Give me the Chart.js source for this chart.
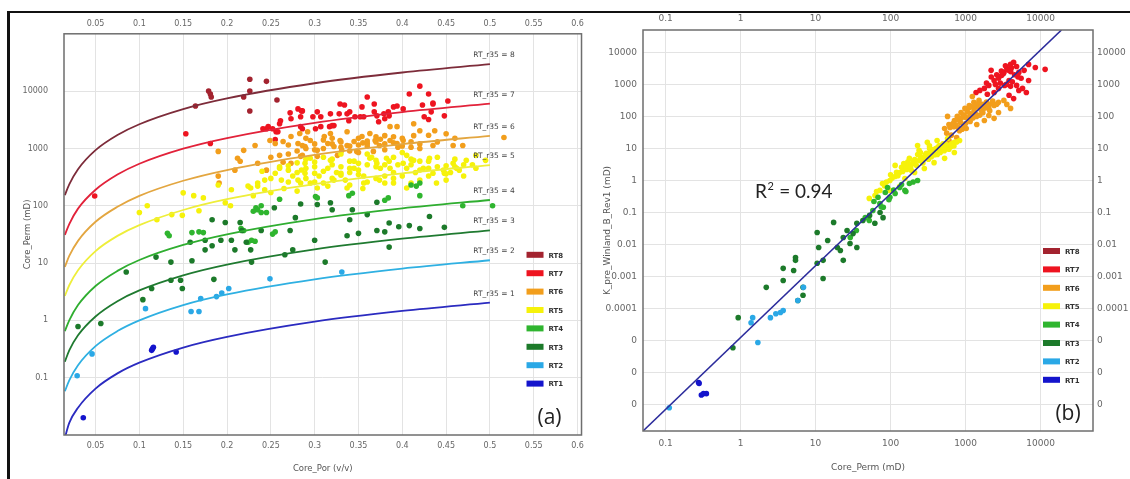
<!DOCTYPE html>
<html lang="en">
<head>
<meta charset="UTF-8">
<title>Rock types by Winland r35 - Core_Por vs Core_Perm</title>
<script src="https://cdn.jsdelivr.net/npm/chart.js@4.4.0/dist/chart.umd.min.js"></script>
<style>
    body {
        margin: 0;
        width: 1130px;
        height: 479px;
        overflow: hidden;
        position: relative;
        background: #fff;
        font-family: "DejaVu Sans", sans-serif;
    }
    .frame-top { position: absolute; left: 7px; top: 11px; width: 1123px; height: 2px; background: #111; }
    .frame-left { position: absolute; left: 7px; top: 11px; width: 3px; height: 468px; background: #111; }
    #leftBox { position: absolute; left: 10px; top: 13px; width: 580px; height: 466px; }
    #rightBox { position: absolute; left: 592px; top: 13px; width: 538px; height: 466px; }
</style>
</head>
<body>
<div class="frame-top"></div>
<div class="frame-left"></div>
<div id="leftBox"><canvas id="porChart" width="580" height="466"></canvas></div>
<div id="rightBox"><canvas id="permChart" width="538" height="466"></canvas></div>

<script>
// ---------- panel (a): Core_Por vs Core_Perm ----------
const porTicks = [0.05, 0.1, 0.15, 0.2, 0.25, 0.3, 0.35, 0.4, 0.45, 0.5, 0.55, 0.6];
const permTicks = [0.1, 1, 10, 100, 1000, 10000];

// RT_r35 boundary curves, read at these porosities
const curvePor = [0.015, 0.02, 0.03, 0.05, 0.075, 0.1, 0.15, 0.2, 0.3, 0.4, 0.5];
const curve8 = [153, 236, 434, 933, 1714, 2642, 4853, 7464, 13710, 21130, 29500];
const curve7 = [31, 48, 89, 190, 350, 540, 990, 1520, 2800, 4310, 6030];
const curve6 = [8.6, 13.3, 24.4, 52.5, 96, 149, 273, 420, 771, 1190, 1660];
const curve5 = [2.67, 4.1, 7.5, 16.2, 29.8, 45.9, 84.3, 130, 238, 367, 513];
const curve4 = [0.65, 1.0, 1.85, 3.98, 7.3, 11.3, 20.7, 31.8, 58.5, 90, 126];
const curve3 = [0.19, 0.3, 0.55, 1.17, 2.16, 3.33, 6.1, 9.4, 17.3, 26.6, 37.2];
const curve2 = [0.058, 0.09, 0.165, 0.355, 0.65, 1.0, 1.85, 2.84, 5.2, 8.0, 11.2];
const curve1 = [0.009, 0.0163, 0.03, 0.0646, 0.119, 0.183, 0.336, 0.516, 0.95, 1.46, 2.04];

// samples [Core_Por, Core_Perm]
const rt8Pts = [[0.226,16100],[0.245,14800],[0.179,10000],[0.181,8900],[0.182,7900],[0.164,5500],
    [0.219,7900],[0.226,10000],[0.226,4500],[0.257,7000]];
const rt7Pts = [[0.049,148],[0.153,1800],[0.181,1220],[0.245,2210],[0.247,2400],[0.256,1960],[0.26,2700],
    [0.261,3040],[0.272,4180],[0.273,3290],[0.281,4890],[0.285,4520],[0.284,2400],[0.241,2210],[0.252,2210],
    [0.258,1960],[0.255,1430],[0.36,7880],[0.42,12200],[0.408,8880],[0.452,6730],[0.423,5740],[0.435,5970],
    [0.433,4350],[0.448,3700],[0.425,3560],[0.394,5510],[0.401,4890],[0.39,5300],[0.384,4350],[0.38,3290],
    [0.373,2920],[0.368,5970],[0.368,4350],[0.354,5300],[0.352,3560],[0.356,3560],[0.34,4350],[0.337,4010],
    [0.339,3040],[0.329,5970],[0.334,5740],[0.328,4010],[0.318,4010],[0.322,2500],[0.317,2400],[0.307,3560],
    [0.303,4350],[0.298,3560],[0.286,4520],[0.284,3560],[0.286,2210],[0.301,2210],[0.307,2400],[0.371,3700],
    [0.379,4010],[0.385,3700],[0.346,3560],[0.32,2500],[0.43,8880],[0.435,6210],[0.43,3200]];
const rt6Pts = [[0.19,887],[0.219,925],[0.232,1127],[0.212,673],[0.215,597],[0.235,551],[0.209,418],[0.19,329],
    [0.191,249],[0.249,1374],[0.255,1220],[0.264,1320],[0.273,1610],[0.26,757],[0.264,574],[0.273,551],
    [0.286,757],[0.286,1127],[0.245,418],[0.281,1220],[0.289,1081],[0.295,1374],[0.303,925],[0.311,1610],
    [0.315,1220],[0.322,1081],[0.329,1374],[0.331,925],[0.337,1127],[0.345,1320],[0.348,887],[0.354,1610],
    [0.36,1220],[0.363,1820],[0.369,1374],[0.374,1127],[0.38,1670],[0.386,1374],[0.394,1220],[0.401,1374],
    [0.413,1670],[0.413,2700],[0.386,2400],[0.394,2400],[0.435,1127],[0.458,1127],[0.469,1127],[0.367,887],
    [0.326,757],[0.303,728],[0.284,728],[0.318,1820],[0.337,1960],[0.292,1960],[0.283,1820],[0.516,1550],
    [0.42,2040],[0.437,2040],[0.25,700],[0.27,800],[0.29,1000],[0.31,1400],[0.32,1200],[0.34,900],[0.35,1500],
    [0.36,1100],[0.37,1300],[0.38,950],[0.39,1600],[0.4,1100],[0.41,1300],[0.42,1200],[0.43,1700],[0.3,950],
    [0.33,1050],[0.355,1250],[0.375,1450],[0.395,1050],[0.28,900],[0.3,1200],[0.32,1500],[0.34,1100],
    [0.36,1350],[0.38,1200],[0.4,1500],[0.42,1000],[0.44,1300],[0.46,1500],[0.31,1000],[0.33,1300],[0.35,1150],
    [0.37,1600],[0.39,1250],[0.41,1050],[0.27,1150],[0.29,1500],[0.35,850],[0.45,1800]];
const rt5Pts = [[0.109,100],[0.1,76],[0.12,57],[0.15,168],[0.162,150],[0.173,137],[0.137,70],[0.149,68],
    [0.168,82],[0.19,230],[0.198,113],[0.204,100],[0.23,150],[0.227,204],[0.235,220],[0.243,280],[0.205,190],
    [0.224,220],[0.235,250],[0.243,190],[0.255,370],[0.262,280],[0.27,418],[0.281,280],[0.289,370],[0.289,551],
    [0.3,370],[0.315,450],[0.33,370],[0.345,450],[0.356,330],[0.371,551],[0.386,450],[0.401,551],[0.413,620],
    [0.424,450],[0.435,370],[0.447,418],[0.458,551],[0.465,418],[0.284,249],[0.303,204],[0.322,280],[0.337,204],
    [0.356,249],[0.374,280],[0.39,249],[0.405,204],[0.42,280],[0.439,249],[0.295,673],[0.318,620],[0.34,600],
    [0.363,673],[0.382,673],[0.405,757],[0.431,673],[0.484,757],[0.495,620],[0.473,620],[0.462,450],[0.448,370],
    [0.484,450],[0.25,300],[0.26,450],[0.265,200],[0.27,500],[0.275,330],[0.28,180],[0.285,420],[0.29,650],
    [0.295,250],[0.3,480],[0.305,330],[0.31,700],[0.315,220],[0.32,520],[0.325,380],[0.33,800],[0.335,280],
    [0.34,450],[0.345,600],[0.35,350],[0.355,200],[0.36,520],[0.365,700],[0.37,300],[0.375,450],[0.38,250],
    [0.385,600],[0.39,380],[0.395,520],[0.4,330],[0.405,450],[0.41,250],[0.415,380],[0.42,600],[0.43,330],
    [0.44,480],[0.45,280],[0.455,380],[0.46,650],[0.47,330],[0.48,520],[0.3,260],[0.32,300],[0.34,230],
    [0.36,260],[0.38,330],[0.26,480],[0.28,560],[0.24,400],[0.25,170],[0.29,300],[0.31,400],[0.33,480],
    [0.35,550],[0.37,620],[0.39,700],[0.41,520],[0.43,450],[0.45,500],[0.27,260],[0.29,450],[0.31,250],
    [0.33,340],[0.35,420],[0.37,480],[0.39,300],[0.41,650],[0.43,600],[0.45,360],[0.47,520],[0.32,650],
    [0.34,380],[0.36,800],[0.38,520],[0.4,850],[0.42,420],[0.44,700],[0.46,480],[0.28,380],[0.3,580]];
const rt4Pts = [[0.134,30],[0.132,33],[0.16,34],[0.168,35],[0.173,34],[0.219,37],[0.216,40],[0.233,92],
    [0.235,85],[0.239,76],[0.245,76],[0.23,80],[0.239,100],[0.252,32],[0.255,35],[0.228,25],[0.224,23],
    [0.232,24],[0.303,137],[0.301,145],[0.339,150],[0.343,165],[0.416,220],[0.41,230],[0.42,150],[0.384,137],
    [0.38,125],[0.42,250],[0.26,130],[0.469,100],[0.503,100]];
const rt3Pts = [[0.085,7],[0.119,12.7],[0.136,10.4],[0.16,11],[0.114,3.6],[0.104,2.3],[0.136,5],[0.147,5],
    [0.149,3.6],[0.185,5.2],[0.03,0.78],[0.056,0.88],[0.183,57],[0.198,51],[0.158,23],[0.175,25],[0.183,20],
    [0.193,25],[0.205,25],[0.175,17],[0.209,17],[0.222,23],[0.227,17],[0.228,10.4],[0.266,14],[0.275,17],
    [0.272,37],[0.3,25],[0.312,10.4],[0.337,30],[0.34,57],[0.278,62],[0.254,92],[0.215,51],[0.318,113],
    [0.284,107],[0.343,85],[0.217,37],[0.239,37],[0.303,105],[0.32,85],[0.371,115],[0.385,50],[0.396,43],
    [0.408,45],[0.42,40],[0.431,65],[0.448,42],[0.36,70],[0.371,37],[0.35,33],[0.38,35],[0.385,19]];
const rt2Pts = [[0.046,0.26],[0.029,0.108],[0.107,1.6],[0.159,1.43],[0.168,1.43],[0.17,2.4],[0.188,2.6],
    [0.194,3.0],[0.202,3.6],[0.249,5.3],[0.331,7.0]];
const rt1Pts = [[0.036,0.02],[0.115,0.32],[0.116,0.34],[0.114,0.3],[0.142,0.28]];

// ---------- panel (b): Core_Perm vs K_pre_Winland_B_Rev1 ----------
const coreTicks = [0.1, 1, 10, 100, 1000, 10000];
const predTicks = [1e-7, 1e-6, 1e-5, 1e-4, 0.001, 0.01, 0.1, 1, 10, 100, 1000, 10000];
const fitLine = [[0.05, 1.5e-8], [19000, 5e4]];

// samples [Core_Perm, K_pre]
const kRt7 = [[1380,560],[1780,750],[2040,930],[2400,1330],[2750,1550],[3240,2370],[3550,3160],[3980,4220],
    [4370,4900],[4790,3630],[5130,2370],[3800,1330],[2750,750],[3980,870],[5500,1550],[6030,2750],[6920,1330],
    [6460,560],[4370,360],[8510,3390],[11500,2950],[2400,560],[1950,490],[3020,1900],[4790,930],[2190,2750],
    [3310,930],[5750,750],[6920,4220],[1550,650],[3800,460],[5130,650],[2200,1700],[2600,2000],[3000,2600],
    [3400,3800],[3700,2800],[4100,3300],[4500,2000],[5000,1700],[2900,1100],[3500,1000],[4200,1200],
    [1900,1100],[2500,1000],[3200,2200],[4000,2500]];
const kRt6 = [[525,42],[600,56],[710,75],[775,100],[870,133],[980,178],[1120,219],[1290,275],[1510,316],
    [1780,237],[2040,178],[2400,219],[2750,275],[3240,316],[2040,107],[1780,75],[1410,56],[1120,87],[955,52],
    [830,36],[1290,133],[1620,155],[2400,87],[2750,133],[645,26],[760,22],[600,18],[1020,42],[3550,237],
    [3980,178],[575,100],[1230,420],[700,48],[850,65],[1000,95],[1150,120],[1300,160],[1450,200],[1650,240],
    [1900,280],[2200,250],[2600,240],[1400,100],[1700,130],[2100,150],[1000,60],[1250,90],[900,40],
    [560,30],[620,45],[680,60],[740,55],[800,80],[880,90],[950,110],[1050,140],[1100,180],[1200,200],
    [1350,220],[1500,260],[1600,200],[1800,180],[2000,220],[2300,300],[1150,70],[1350,120],[1550,110],[800,45]];
const kRt5 = [[72,0.49],[83,0.69],[98,1.0],[115,1.33],[132,1.78],[155,2.37],[178,2.95],[209,3.6],[240,4.2],
    [282,5.2],[331,6.0],[380,7.5],[447,8.7],[525,10.7],[603,12.3],[708,15.5],[832,17.8],[155,1.15],[209,1.78],
    [282,2.37],[380,3.6],[525,4.9],[708,7.5],[115,2.95],[178,4.9],[240,8.7],[331,10],[447,12.3],[62,0.34],
    [132,0.65],[98,0.49],[229,12.3],[309,15.5],[52,0.275],[575,20.4],[190,2.04],[417,17.8],[100,1.5],[120,1.8],
    [140,2.6],[165,2.2],[190,3.2],[210,4.5],[250,5.5],[270,3.5],[300,7],[350,5.5],[400,10],[420,6.5],[480,9],
    [550,11],[650,14],[170,3.8],[230,6.5],[360,9],[500,14],[600,9.5],[65,0.45],[78,0.8],[88,0.9],[105,1.2],
    [125,1.4],[145,1.9],[160,2.8],[185,2.6],[200,3.8],[220,3.0],[260,4.0],[290,6.3],[320,4.6],[340,8],
    [390,6.3],[430,11],[460,7.5],[520,8.5],[560,13],[640,11.5],[700,12],[760,16],[150,3.4],[250,7.5],[330,12]];
const kRt4 = [[72,0.19],[98,0.3],[132,0.6],[178,0.8],[229,1.0],[58,0.115],[80,0.145],[115,0.39],[155,0.49],
    [91,0.6],[68,0.3],[46,0.069],[52,0.056],[35,0.0275],[29,0.0166],[60,0.22],[85,0.42],[110,0.5],[140,0.75],
    [160,0.45],[200,0.9],[75,0.15],[95,0.25]];
const kRt3 = [[10.5,0.0237],[17.4,0.049],[14.5,0.0133],[11,0.0081],[10.5,0.0026],[12.6,0.00087],[5.4,0.0039],
    [3.7,0.0018],[3.7,0.00075],[5.1,0.00155],[5.4,0.0032],[2.2,0.00046],[6.8,0.00026],[6.8,0.00046],
    [5.8,0.000178],[0.93,5.2e-5],[0.79,6e-6],[23.4,0.0166],[28.8,0.0107],[35.5,0.0081],[21.4,0.0065],
    [23.4,0.0032],[19.5,0.0081],[31.6,0.0219],[42.7,0.056],[52.5,0.081],[61.7,0.046],[35.5,0.046],[72.4,0.1],
    [79.4,0.069],[12.6,0.0032],[26.3,0.0275]];
const kRt2 = [[1.45,5.2e-5],[1.38,3.6e-5],[2.5,5.2e-5],[2.95,6.9e-5],[3.4,7.5e-5],[3.7,8.7e-5],[5.8,0.000178],
    [6.9,0.00046],[1.7,8.7e-6],[0.112,8e-8]];
const kRt1 = [[0.275,4.9e-7],[0.28,4.6e-7],[0.3,2.0e-7],[0.32,2.2e-7],[0.35,2.2e-7]];

// rock type colours (legend order RT8..RT1)
const rtNames = ['RT8', 'RT7', 'RT6', 'RT5', 'RT4', 'RT3', 'RT2', 'RT1'];
const rtColors = ['#a3232f', '#ee1420', '#f29e1c', '#f6f20a', '#2fb52f', '#1c7a2a', '#2aa8e6', '#1414cc'];
const curveColors = ['#7d2c3a', '#e2223a', '#e3a640', '#eeee3a', '#2fae30', '#1f7a30', '#2fb0e2', '#2b2bc0'];

function toXY(pairs) {
    return pairs.map(p => ({ x: p[0], y: p[1] }));
}

function scatterSet(label, pairs, color) {
    return {
        label: label,
        data: toXY(pairs),
        backgroundColor: color,
        pointRadius: 2.8,
        pointBorderWidth: 0,
        showLine: false,
        order: 2
    };
}

function curveSet(label, values, color) {
    return {
        label: label,
        data: curvePor.map((p, i) => ({ x: p, y: values[i] })),
        borderColor: color,
        borderWidth: 1.8,
        pointRadius: 0,
        showLine: true,
        cubicInterpolationMode: 'monotone',
        order: 1
    };
}

const fmtNum = v => v >= 1 ? String(v) : String(parseFloat(v.toFixed(4)));
const tickColor = '#666';
const gridColor = '#e3e3e3';

// frame, legend, labels drawn over the plot
const notesPlugin = {
    id: 'notes',
    afterDatasetsDraw(chart, args, opts) {
        const ctx = chart.ctx;
        const a = chart.chartArea;
        ctx.save();
        ctx.strokeStyle = '#6e6e6e';
        ctx.lineWidth = 1.5;
        ctx.strokeRect(a.left, a.top, a.right - a.left, a.bottom - a.top);

        // curve labels
        if (opts.curveLabels) {
            ctx.font = '7.5px "DejaVu Sans"';
            ctx.fillStyle = '#444';
            ctx.textAlign = 'center';
            ctx.textBaseline = 'middle';
            opts.curveLabels.forEach((txt, i) => {
                const meta = chart.getDatasetMeta(i);
                const last = meta.data[meta.data.length - 1];
                ctx.fillText(txt, last.x + 4, last.y - 9);
            });
        }

        // legend
        const lx = a.right - opts.legendRight;
        rtNames.forEach((name, i) => {
            const cy = a.top + 221 + i * 18.4;
            ctx.fillStyle = rtColors[i];
            ctx.fillRect(lx, cy - 3, 17, 6);
            ctx.fillStyle = '#333';
            ctx.font = 'bold 7px "DejaVu Sans"';
            ctx.textAlign = 'left';
            ctx.textBaseline = 'middle';
            ctx.fillText(name, lx + 22, cy + 1);
        });

        // panel letter
        ctx.fillStyle = '#222';
        ctx.font = '21px "Open Sans"';
        ctx.textAlign = 'center';
        ctx.textBaseline = 'middle';
        ctx.fillText(opts.letter, a.right - opts.letterDx, a.bottom - 17);

        // R squared
        if (opts.r2) {
            ctx.font = '19px Lato';
            ctx.textAlign = 'left';
            let x = a.left + 112;
            const y = a.top + 162;
            ctx.fillText('R', x, y);
            x += ctx.measureText('R').width;
            ctx.font = '11px Lato';
            ctx.fillText('2', x + 0.5, y - 6);
            x += ctx.measureText('2').width + 1;
            ctx.font = '19px Lato';
            ctx.fillText(' = ' + opts.r2, x, y);
        }
        ctx.restore();
    }
};

// ---------- chart (a) ----------
const porDatasets = [
    curveSet('RT_r35 = 8', curve8, curveColors[0]),
    curveSet('RT_r35 = 7', curve7, curveColors[1]),
    curveSet('RT_r35 = 6', curve6, curveColors[2]),
    curveSet('RT_r35 = 5', curve5, curveColors[3]),
    curveSet('RT_r35 = 4', curve4, curveColors[4]),
    curveSet('RT_r35 = 3', curve3, curveColors[5]),
    curveSet('RT_r35 = 2', curve2, curveColors[6]),
    curveSet('RT_r35 = 1', curve1, curveColors[7]),
    scatterSet('RT1', rt1Pts, rtColors[7]),
    scatterSet('RT2', rt2Pts, rtColors[6]),
    scatterSet('RT3', rt3Pts, rtColors[5]),
    scatterSet('RT4', rt4Pts, rtColors[4]),
    scatterSet('RT5', rt5Pts, rtColors[3]),
    scatterSet('RT6', rt6Pts, rtColors[2]),
    scatterSet('RT7', rt7Pts, rtColors[1]),
    scatterSet('RT8', rt8Pts, rtColors[0])
];

new Chart(document.getElementById('porChart'), {
    type: 'scatter',
    data: { datasets: porDatasets },
    plugins: [notesPlugin],
    options: {
        responsive: false,
        animation: false,
        devicePixelRatio: 1,
        events: [],
        layout: { padding: { left: 0, right: 3, top: 0, bottom: 0 } },
        plugins: {
            legend: { display: false },
            tooltip: { enabled: false },
            notes: {
                curveLabels: ['RT_r35 = 8', 'RT_r35 = 7', 'RT_r35 = 6', 'RT_r35 = 5',
                              'RT_r35 = 4', 'RT_r35 = 3', 'RT_r35 = 2', 'RT_r35 = 1'],
                legendRight: 55,
                letter: '(a)',
                letterDx: 32
            }
        },
        scales: {
            x: {
                type: 'linear',
                position: 'bottom',
                min: 0.014,
                max: 0.6045,
                afterBuildTicks: s => { s.ticks = porTicks.map(v => ({ value: v })); },
                afterFit: s => { s.height = 44; },
                grid: { color: gridColor, drawTicks: false },
                border: { display: false },
                ticks: {
                    autoSkip: false, maxRotation: 0, padding: 6, color: tickColor,
                    font: { family: 'DejaVu Sans', size: 8 },
                    callback: v => String(parseFloat(v.toFixed(2)))
                },
                title: {
                    display: true, text: 'Core_Por (v/v)', color: '#555',
                    font: { family: 'DejaVu Sans', size: 8.5 }, padding: { top: 0, bottom: 5 }
                }
            },
            xTop: {
                type: 'linear',
                position: 'top',
                min: 0.014,
                max: 0.6045,
                afterBuildTicks: s => { s.ticks = porTicks.map(v => ({ value: v })); },
                afterFit: s => { s.height = 17; },
                grid: { display: false, drawTicks: false },
                border: { display: false },
                ticks: {
                    autoSkip: false, maxRotation: 0, padding: 5, color: tickColor,
                    font: { family: 'DejaVu Sans', size: 8 },
                    callback: v => String(parseFloat(v.toFixed(2)))
                }
            },
            y: {
                type: 'logarithmic',
                position: 'left',
                min: 0.01,
                max: 100000,
                afterBuildTicks: s => { s.ticks = permTicks.map(v => ({ value: v })); },
                afterFit: s => { s.width = 54; },
                grid: { color: gridColor, drawTicks: false },
                border: { display: false },
                ticks: {
                    autoSkip: false, padding: 16, color: tickColor,
                    font: { family: 'DejaVu Sans', size: 8 },
                    callback: v => fmtNum(v)
                },
                title: {
                    display: true, text: 'Core_Perm (mD)', color: '#555',
                    font: { family: 'DejaVu Sans', size: 8.5 }, padding: { top: 13, bottom: 0 }
                }
            }
        }
    }
});

// ---------- chart (b) ----------
const permDatasets = [
    {
        label: '1:1',
        data: toXY(fitLine),
        borderColor: '#2c2c9c',
        borderWidth: 1.6,
        pointRadius: 0,
        showLine: true,
        order: 1
    },
    scatterSet('RT1', kRt1, rtColors[7]),
    scatterSet('RT2', kRt2, rtColors[6]),
    scatterSet('RT3', kRt3, rtColors[5]),
    scatterSet('RT4', kRt4, rtColors[4]),
    scatterSet('RT5', kRt5, rtColors[3]),
    scatterSet('RT6', kRt6, rtColors[2]),
    scatterSet('RT7', kRt7, rtColors[1])
];

const predAxis = (pos, width, pad) => ({
    type: 'logarithmic',
    position: pos,
    min: 1.5e-8,
    max: 5e4,
    afterBuildTicks: s => { s.ticks = predTicks.map(v => ({ value: v })); },
    afterFit: s => { s.width = width; },
    grid: { display: pos === 'left', color: gridColor, drawTicks: false },
    border: { display: false },
    ticks: {
        autoSkip: false, padding: pad, color: tickColor,
        font: { family: 'DejaVu Sans', size: 9 },
        callback: v => fmtNum(v)
    }
});

const coreAxis = (pos, height, pad) => ({
    type: 'logarithmic',
    position: pos,
    min: 0.05,
    max: 50000,
    afterBuildTicks: s => { s.ticks = coreTicks.map(v => ({ value: v })); },
    afterFit: s => { s.height = height; },
    grid: { display: pos === 'bottom', color: gridColor, drawTicks: false },
    border: { display: false },
    ticks: {
        autoSkip: false, maxRotation: 0, padding: pad, color: tickColor,
        font: { family: 'DejaVu Sans', size: 9 },
        callback: v => fmtNum(v)
    }
});

const xAxisB = coreAxis('bottom', 48, 7);
xAxisB.title = {
    display: true, text: 'Core_Perm (mD)', color: '#555',
    font: { family: 'DejaVu Sans', size: 9 }, padding: { top: 0, bottom: 6 }
};
const yAxisB = predAxis('left', 51, 6);
yAxisB.title = {
    display: true, text: 'K_pre_Winland_B_Rev1 (mD)', color: '#555',
    font: { family: 'DejaVu Sans', size: 9 }, padding: { top: 10, bottom: 0 }
};

new Chart(document.getElementById('permChart'), {
    type: 'scatter',
    data: { datasets: permDatasets },
    plugins: [notesPlugin],
    options: {
        responsive: false,
        animation: false,
        devicePixelRatio: 1,
        events: [],
        layout: { padding: 0 },
        plugins: {
            legend: { display: false },
            tooltip: { enabled: false },
            notes: {
                legendRight: 50,
                letter: '(b)',
                letterDx: 25,
                r2: '0.94'
            }
        },
        scales: {
            x: xAxisB,
            xTop: coreAxis('top', 17, 6),
            y: yAxisB,
            yRight: predAxis('right', 37, 4)
        }
    }
});
</script>
</body>
</html>
